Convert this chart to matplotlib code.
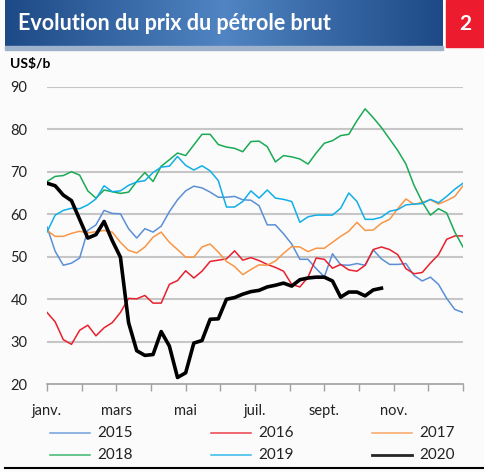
import numpy as np
import matplotlib
matplotlib.use("Agg")
import matplotlib.pyplot as plt
from matplotlib.lines import Line2D
from matplotlib.patches import Rectangle

plt.rcParams['font.family'] = ['Lato', 'DejaVu Sans']

# weekly prices (US$/b), 52 weeks per year
y2015 = [57.0, 51.3, 48.0, 48.5, 49.7, 56.2, 57.5, 60.9, 60.2, 60.1, 56.6, 54.4, 56.6,
         55.8, 57.2, 60.6, 63.4, 65.5, 66.6, 66.2, 65.2, 64.0, 64.0, 64.2, 63.4, 63.3,
         62.0, 57.5, 57.5, 55.4, 53.0, 49.4, 49.4, 47.2, 45.3, 50.7, 48.1, 48.0, 48.4,
         48.0, 51.6, 49.5, 48.2, 48.2, 48.4, 45.6, 44.3, 45.2, 43.5, 40.2, 37.6, 36.9]
y2016 = [36.9, 34.7, 30.5, 29.4, 32.7, 33.9, 31.4, 33.3, 34.5, 36.9, 40.2, 40.1, 40.9,
         39.1, 39.1, 43.5, 44.4, 46.7, 45.0, 46.6, 48.9, 49.2, 49.5, 51.4, 49.2, 49.8,
         49.1, 48.2, 47.5, 46.6, 43.5, 42.9, 45.2, 49.7, 49.4, 47.3, 48.2, 46.9, 46.6,
         48.0, 51.7, 52.3, 51.7, 50.5, 47.2, 46.0, 46.3, 48.5, 50.5, 54.1, 54.9, 54.9]
y2017 = [56.2, 54.8, 54.8, 55.5, 56.0, 55.6, 55.9, 56.2, 55.8, 53.4, 51.5, 50.9, 52.3,
         54.6, 55.8, 53.4, 51.7, 49.9, 49.9, 52.3, 53.0, 51.1, 48.9, 47.7, 45.8, 47.0,
         48.1, 48.0, 49.0, 50.8, 52.4, 52.3, 51.2, 52.0, 52.0, 53.4, 54.8, 56.0, 58.1,
         56.2, 56.3, 57.9, 58.8, 61.3, 63.6, 62.3, 62.8, 63.4, 62.4, 63.2, 64.2, 66.7]
y2018 = [67.7, 68.9, 69.1, 70.0, 69.2, 65.5, 63.8, 65.7, 65.3, 64.9, 65.2, 67.7, 69.8,
         67.7, 71.3, 72.8, 74.4, 73.8, 76.3, 78.8, 78.8, 76.4, 75.8, 75.5, 74.7, 77.1,
         77.2, 75.9, 72.3, 73.8, 73.5, 73.0, 71.8, 74.4, 76.7, 77.3, 78.5, 78.8, 82.0,
         84.8, 82.7, 80.4, 77.7, 75.0, 71.8, 66.8, 62.9, 59.8, 61.3, 60.3, 55.8, 52.3]
y2019 = [55.8, 59.8, 60.9, 61.4, 61.3, 62.2, 63.6, 66.7, 65.3, 65.5, 66.8, 67.6, 67.9,
         69.8, 71.1, 71.3, 73.6, 71.5, 70.4, 71.4, 70.2, 67.9, 61.7, 61.7, 63.0, 65.5,
         63.8, 65.7, 63.8, 63.5, 63.0, 58.1, 59.4, 59.8, 59.8, 59.8, 61.4, 65.0, 63.0,
         58.8, 58.8, 59.3, 60.7, 61.1, 62.2, 62.4, 62.5, 63.5, 62.7, 64.2, 65.9, 67.3]
y2020 = [67.3, 66.7, 64.5, 63.2, 58.8, 54.4, 55.2, 58.3, 53.8, 49.9, 34.5, 27.9, 26.8,
         27.0, 32.4, 29.0, 21.6, 22.7, 29.7, 30.3, 35.3, 35.4, 40.0, 40.4, 41.2, 41.8,
         42.1, 42.9, 43.3, 43.8, 43.1, 44.6, 45.0, 45.2, 45.2, 44.3, 40.5, 41.7, 41.7,
         40.8, 42.2, 42.6]

years = ['2015', '2016', '2017', '2018', '2019', '2020']
series = [y2015, y2016, y2017, y2018, y2019, y2020]
colors = ['#5B8FD6', '#E8202D', '#F79646', '#1AAA55', '#12AEE8', '#000000']
widths = [1.1, 1.1, 1.1, 1.1, 1.1, 2.6]
month_labels = ['janv.', '', 'mars', '', 'mai', '', 'juil.', '', 'sept.', '', 'nov.', '', '']

W, H = 485, 472
fig = plt.figure(figsize=(W / 100, H / 100), dpi=100)
fig.patch.set_facecolor('#FBFBFB')


def fx(x):
    return x / W


def fy(y):
    return 1 - y / H


# title bar with gradient
bar = fig.add_axes([fx(5), fy(46), fx(438), 46 / H])
t = np.linspace(0, 1, 300)
g = 1 - np.abs(t - 0.5) * 2
dark = np.array([0x1D, 0x4A, 0x86]) / 255
light = np.array([0x50, 0x84, 0xC2]) / 255
grad = dark[None, :] + (light - dark)[None, :] * g[:, None]
bar.imshow(grad[None, :, :], aspect='auto', extent=[0, 1, 0, 1])
bar.axis('off')
fig.patches.append(Rectangle((fx(5), fy(49.5)), fx(438), 3.5 / H, transform=fig.transFigure,
                             color='#9FB2CC', zorder=0))
fig.patches.append(Rectangle((fx(446), fy(47)), fx(39), 47 / H, transform=fig.transFigure,
                             color='#EC1C2E', zorder=0))
fig.text(fx(18), fy(24), 'Evolution du prix du pétrole brut', color='white',
         fontsize=15.5, fontweight='bold', va='center', ha='left')
fig.text(fx(465), fy(24), '2', color='white', fontsize=15, fontweight='bold',
         va='center', ha='center')
fig.text(fx(10), fy(64), 'US$/b', color='black', fontsize=10, fontweight='bold',
         va='center', ha='left')

# main chart
ax = fig.add_axes([fx(47), fy(384.3), fx(416), (384.3 - 86.7) / H])
ax.set_facecolor('#FBFBFB')
for yr, vals, c, lw in zip(years, series, colors, widths):
    ax.plot(np.arange(len(vals)), vals, color=c, lw=lw, label=yr,
            zorder=3 if yr == '2020' else 2)

ax.set_xlim(0, 51)
ax.set_ylim(20, 90)
ax.set_yticks(range(20, 91, 10))
for v in range(30, 91, 10):
    ax.axhline(v, color='#C6C6C6', lw=1.5, zorder=1)

months = np.arange(13) * 51 / 12
ax.set_xticks(months)
ax.set_xticklabels(month_labels)
ax.tick_params(axis='x', direction='out', length=5, width=1, color='#A0A0A0', pad=9,
               labelsize=10.5, labelcolor='#222222')
ax.tick_params(axis='y', length=0, labelsize=10.5, labelcolor='#222222', pad=14)
for sp in ['top', 'right', 'left']:
    ax.spines[sp].set_visible(False)
ax.spines['bottom'].set_color('#A0A0A0')
ax.spines['bottom'].set_linewidth(1.2)

# legend placed like the reference (rows 2015-2017, 2018-2020)
hx = [50, 211, 372]
hy = [433, 455]
for k, (yr, c, lw) in enumerate(zip(years, colors, widths)):
    r, col = divmod(k, 3)
    fig.add_artist(Line2D([fx(hx[col]), fx(hx[col] + 40)], [fy(hy[r]), fy(hy[r])],
                          transform=fig.transFigure, color=c, lw=min(lw, 2.0), alpha=0.85))
    fig.text(fx(hx[col] + 47), fy(hy[r]), yr, fontsize=11, va='center', ha='left',
             color='#222222')

fig.add_artist(Line2D([fx(5), fx(485)], [fy(468), fy(468)], transform=fig.transFigure,
                      color='black', lw=1.5))

fig.savefig('out.png', dpi=100, facecolor=fig.get_facecolor())
